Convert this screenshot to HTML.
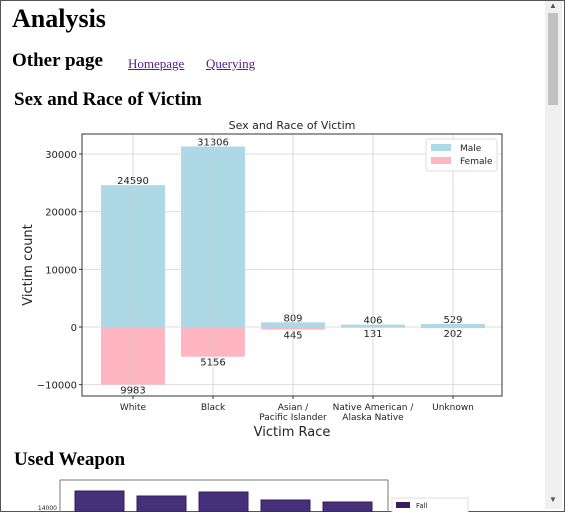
<!DOCTYPE html>
<html style="overflow:hidden;height:512px;"><head><meta charset="utf-8"><style>
body{margin:0;width:565px;height:512px;overflow:hidden;background:#fff;font-family:"Liberation Serif",serif;position:relative;}
#win{position:absolute;left:0;top:0;width:563px;height:510px;border:1px solid #555;}
h1,h2{position:absolute;margin:0;font-weight:bold;color:#000;}
a{color:#551a8b;}
</style></head><body>
<div id="win"></div>
<h1 style="left:12px;top:4px;font-size:26px;">Analysis</h1>
<h2 style="left:12px;top:50px;font-size:19px;">Other page</h2>
<a href="#" style="position:absolute;left:128px;top:56px;font-size:13px;">Homepage</a>
<a href="#" style="position:absolute;left:206px;top:56px;font-size:13px;">Querying</a>
<h2 style="left:14px;top:89px;font-size:19px;">Sex and Race of Victim</h2>
<h2 style="left:14px;top:449px;font-size:19px;">Used Weapon</h2>
<div style="position:absolute;left:545px;top:1px;width:17px;height:508px;background:#f0f0f0;">
<div style="position:absolute;left:3px;top:12px;width:10px;height:92px;background:#c1c1c1;"></div>
<div style="position:absolute;left:4px;top:0;font-size:8px;color:#555;">▲</div>
<div style="position:absolute;left:4px;top:494px;font-size:8px;color:#555;">▼</div>
</div>
<svg id="chart" width="565" height="512" style="position:absolute;left:0;top:0;font-family:'DejaVu Sans',sans-serif;"></svg>
<script>
const categories=["White","Black","Asian /|Pacific Islander","Native American /|Alaska Native","Unknown"];
const male=[24590,31306,809,406,529];
const female=[9983,5156,445,131,202];
const yTicks=[-10000,0,10000,20000,30000];
const wVals=[14800,14550,14750,14350,14250];
const NS="http://www.w3.org/2000/svg";
const svg=document.getElementById('chart');
function mk(t,a,p){const e=document.createElementNS(NS,t);for(const k in a)e.setAttribute(k,a[k]);(p||svg).appendChild(e);return e;}
const L=82,R=502,T=134,B=396;
const y=v=>327-v*(173/30000);
const xc=i=>133+i*80;
mk('text',{x:292,y:129,'font-size':11,'text-anchor':'middle',fill:'#222'}).textContent='Sex and Race of Victim';
yTicks.forEach(v=>{const g=mk('line',{x1:L,x2:R,y1:y(v),y2:y(v),stroke:'#ddd'});
const t=mk('text',{x:L-5,y:y(v)+4,'font-size':10,'text-anchor':'end',fill:'#222'});t.textContent=v<0?'\u2212'+(-v):v;

mk('line',{x1:L-3,x2:L,y1:y(v),y2:y(v),stroke:'#333'});});
categories.forEach((c,i)=>{
const m=mk('rect',{x:xc(i)-32,y:y(male[i]),width:64,height:y(0)-y(male[i]),fill:'#add8e6'});

const f=mk('rect',{x:xc(i)-32,y:y(0),width:64,height:y(-female[i])-y(0),fill:'#ffb6c1'});

const a=mk('text',{x:xc(i),y:y(male[i])-1,'font-size':10,'text-anchor':'middle',fill:'#222'});a.textContent=male[i];

const b=mk('text',{x:xc(i),y:y(-female[i])+9,'font-size':10,'text-anchor':'middle',fill:'#222'});b.textContent=female[i];

c.split('|').forEach((s,j)=>{const t=mk('text',{x:xc(i),y:410+j*10,'font-size':9,'text-anchor':'middle',fill:'#222'});t.textContent=s;
});
mk('line',{x1:xc(i),x2:xc(i),y1:T,y2:B,stroke:'#ccc','stroke-opacity':0.7});
mk('line',{x1:xc(i),x2:xc(i),y1:B,y2:B+3,stroke:'#333'});
});
mk('rect',{x:L,y:T,width:R-L,height:B-T,fill:'none',stroke:'#333'});
const xt=mk('text',{x:292,y:436,'font-size':13,'text-anchor':'middle',fill:'#222'});xt.textContent='Victim Race';
const yt=mk('text',{x:32,y:265,'font-size':13,'text-anchor':'middle',fill:'#222',transform:'rotate(-90 32 265)'});yt.textContent='Victim count';
const lg=mk('g',{});
mk('rect',{x:426,y:139,width:71,height:32,fill:'#fff',stroke:'#ddd',rx:2},lg);
mk('rect',{x:431,y:144,width:20,height:7,fill:'#add8e6'},lg);
mk('text',{x:460,y:151,'font-size':9,fill:'#222'},lg).textContent='Male';
mk('rect',{x:431,y:157,width:20,height:7,fill:'#ffb6c1'},lg);
mk('text',{x:460,y:164,'font-size':9,fill:'#222'},lg).textContent='Female';
// weapon chart (partial)
mk('rect',{x:60,y:480,width:328,height:40,fill:'none',stroke:'#777'});
const wy=v=>507-(v-14000)*(20/1000);
wVals.forEach((v,i)=>{const r=mk('rect',{x:75+i*62,y:wy(v),width:49,height:512-wy(v),fill:'#45307a',stroke:'#3b1a5e'});
});
mk('text',{x:57,y:510,'font-size':6,'text-anchor':'end',fill:'#222'}).textContent='14000';
mk('rect',{x:392,y:498,width:76,height:20,fill:'#fff',stroke:'#ddd'});
mk('rect',{x:396,y:502,width:14,height:6,fill:'#3b1a5e'});
mk('text',{x:416,y:508,'font-size':7,fill:'#222'}).textContent='Fall';
</script>
</body></html>
